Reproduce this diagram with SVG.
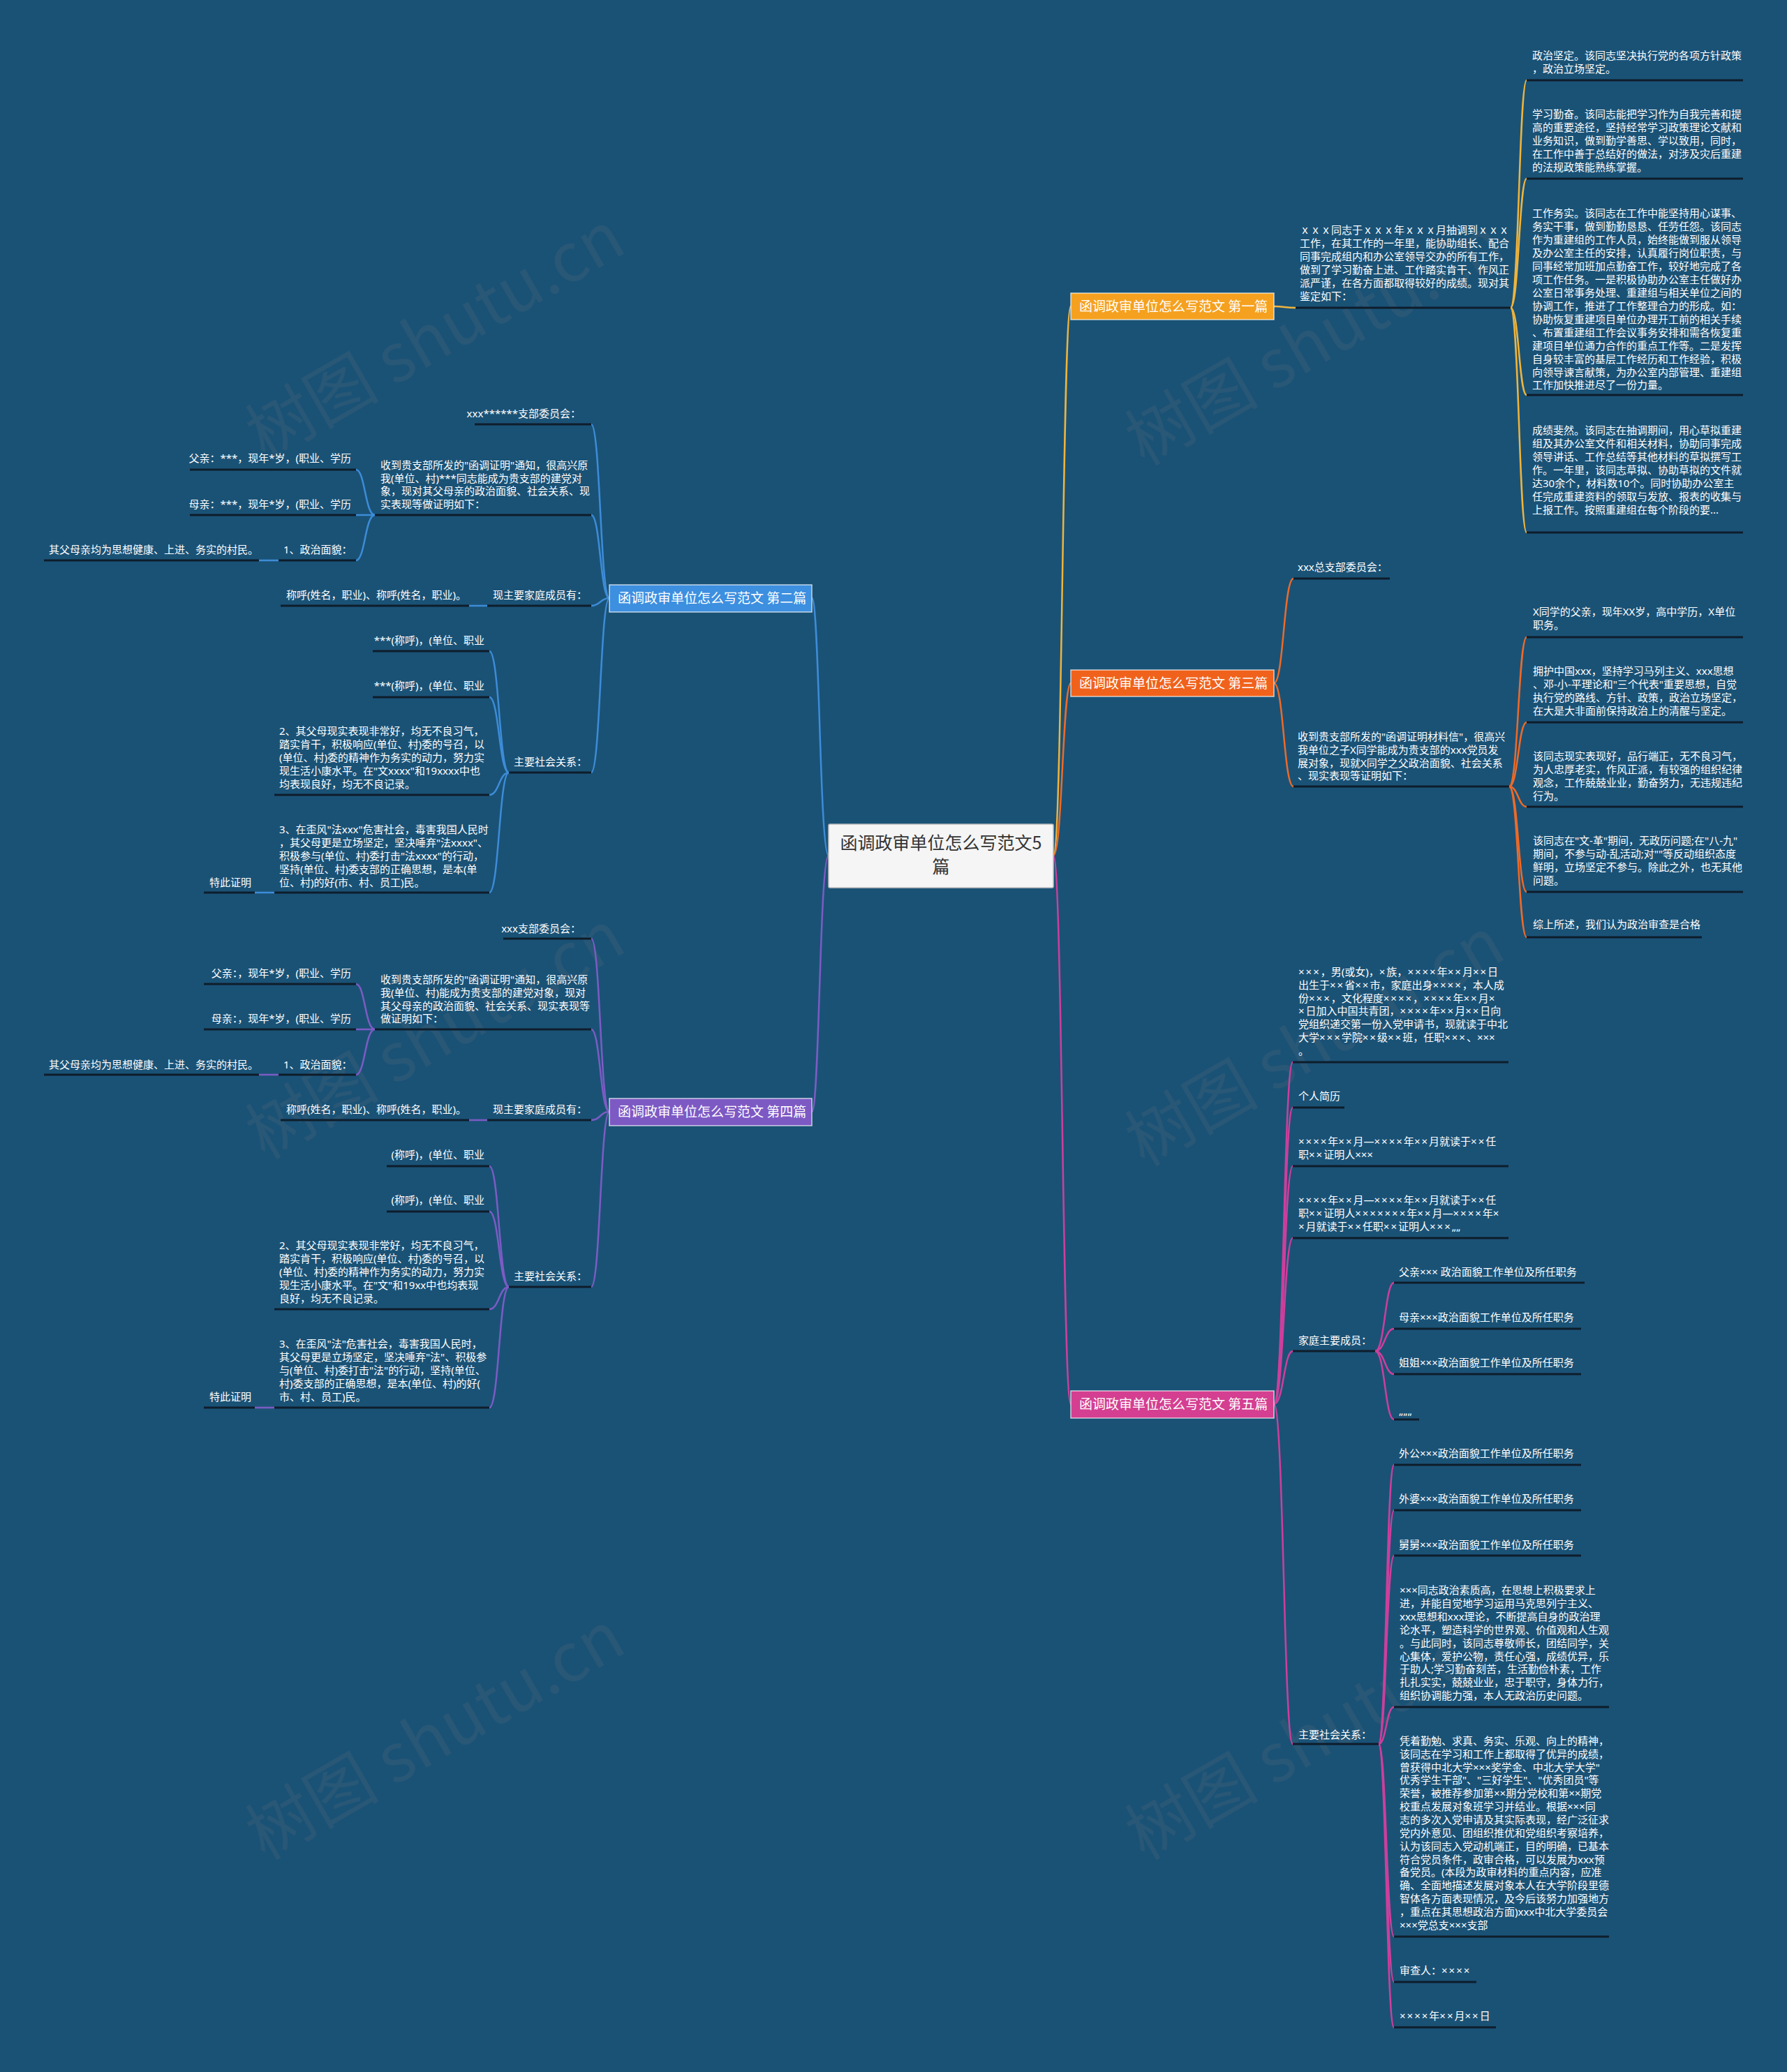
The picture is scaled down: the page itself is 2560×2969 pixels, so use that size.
<svg xmlns="http://www.w3.org/2000/svg" width="2560" height="2969" viewBox="0 0 2560 2969">
<style>
.t{font-family:"Noto Sans","Noto Sans CJK SC",sans-serif;font-size:15px;fill:#ffffff}
.x{letter-spacing:2px}
.mt{font-family:"Noto Sans CJK SC","Noto Sans",sans-serif;font-size:19px;fill:#ffffff}
.ct{font-family:"Noto Sans CJK SC","Noto Sans",sans-serif;font-size:25px;fill:#333333}
.wm{font-family:"Noto Sans CJK SC","Noto Sans",sans-serif;font-size:96px;fill:#4a6478;opacity:0.32}
.ul{stroke:#0e1d2b;stroke-width:3}
.k{fill:none;stroke-width:2.5;stroke-linecap:round}
.y{stroke:#efb43c}.o{stroke:#ee6a28}.m{stroke:#cd3f9c}.b{stroke:#3d8cd8}.p{stroke:#7c5cc4}
.mn{stroke:#ffffff;stroke-opacity:0.7;stroke-width:1.5}
</style>
<rect width="2560" height="2969" fill="#1a5276"/>
<g id="watermarks">
<text class="wm" transform="translate(640,510) rotate(-30)" text-anchor="middle">树图 shutu.cn</text>
<text class="wm" transform="translate(1900,518) rotate(-30)" text-anchor="middle">树图 shutu.cn</text>
<text class="wm" transform="translate(640,1512) rotate(-30)" text-anchor="middle">树图 shutu.cn</text>
<text class="wm" transform="translate(1900,1522) rotate(-30)" text-anchor="middle">树图 shutu.cn</text>
<text class="wm" transform="translate(640,2516) rotate(-30)" text-anchor="middle">树图 shutu.cn</text>
<text class="wm" transform="translate(1900,2516) rotate(-30)" text-anchor="middle">树图 shutu.cn</text>
</g>
<g id="connectors">
<path class="k y" stroke-width="3" d="M1509 1226 C1522 1226 1522 439 1534 439"/>
<path class="k o" stroke-width="3" d="M1509 1226 C1522 1226 1522 979 1534 979"/>
<path class="k m" stroke-width="3" d="M1509 1226 C1522 1226 1522 2012 1534 2012"/>
<path class="k b" stroke-width="3" d="M1187 1226 C1174 1226 1174 857 1163 857"/>
<path class="k p" stroke-width="3" d="M1187 1226 C1174 1226 1174 1593 1163 1593"/>
<path class="k y" d="M1825 439 C1840 439 1840 441 1856 441"/>
<path class="k y" d="M2164 441 C2176 441 2176 115 2187 115"/>
<path class="k y" d="M2164 441 C2176 441 2176 256 2187 256"/>
<path class="k y" d="M2164 441 C2176 441 2176 566 2187 566"/>
<path class="k y" d="M2164 441 C2176 441 2176 763 2187 763"/>
<path class="k o" d="M1825 979 C1839 979 1839 829 1853 829"/>
<path class="k o" d="M1825 979 C1839 979 1839 1127 1853 1127"/>
<path class="k o" d="M2162 1127 C2175 1127 2175 913 2187 913"/>
<path class="k o" d="M2162 1127 C2175 1127 2175 1035 2187 1035"/>
<path class="k o" d="M2162 1127 C2175 1127 2175 1156 2187 1156"/>
<path class="k o" d="M2162 1127 C2175 1127 2175 1278 2187 1278"/>
<path class="k o" d="M2162 1127 C2175 1127 2175 1343 2187 1343"/>
<path class="k m" d="M1825 2012 C1839 2012 1839 1522 1852 1522"/>
<path class="k m" d="M1825 2012 C1839 2012 1839 1587 1852 1587"/>
<path class="k m" d="M1825 2012 C1839 2012 1839 1671 1852 1671"/>
<path class="k m" d="M1825 2012 C1839 2012 1839 1774 1852 1774"/>
<path class="k m" d="M1825 2012 C1839 2012 1839 1936 1852 1936"/>
<path class="k m" d="M1825 2012 C1839 2012 1839 2499 1852 2499"/>
<path class="k m" d="M1970 1936 C1984 1936 1984 1838 1997 1838"/>
<path class="k m" d="M1970 1936 C1984 1936 1984 1904 1997 1904"/>
<path class="k m" d="M1970 1936 C1984 1936 1984 1969 1997 1969"/>
<path class="k m" d="M1970 1936 C1984 1936 1984 2034 1997 2034"/>
<path class="k m" d="M1975 2499 C1986 2499 1986 2099 1997 2099"/>
<path class="k m" d="M1975 2499 C1986 2499 1986 2164 1997 2164"/>
<path class="k m" d="M1975 2499 C1986 2499 1986 2229 1997 2229"/>
<path class="k m" d="M1975 2499 C1986 2499 1986 2446 1997 2446"/>
<path class="k m" d="M1975 2499 C1986 2499 1986 2775 1997 2775"/>
<path class="k m" d="M1975 2499 C1986 2499 1986 2840 1997 2840"/>
<path class="k m" d="M1975 2499 C1986 2499 1986 2905 1997 2905"/>
<path class="k b" d="M873 857 C860 857 860 608 847 608"/>
<path class="k b" d="M873 857 C860 857 860 738 847 738"/>
<path class="k b" d="M873 857 C860 857 860 868 847 868"/>
<path class="k b" d="M873 857 C860 857 860 1107 847 1107"/>
<path class="k b" d="M537 738 C523 738 523 673 510 673"/>
<path class="k b" d="M537 738 C523 738 523 738 510 738"/>
<path class="k b" d="M537 738 C523 738 523 803 510 803"/>
<path class="k b" d="M399 803 L371 803"/>
<path class="k b" d="M698 868 L672 868"/>
<path class="k b" d="M729 1107 C715 1107 715 933 701 933"/>
<path class="k b" d="M729 1107 C715 1107 715 999 701 999"/>
<path class="k b" d="M729 1107 C715 1107 715 1139 701 1139"/>
<path class="k b" d="M729 1107 C715 1107 715 1279 701 1279"/>
<path class="k b" d="M393 1279 L365 1279"/>
<path class="k p" d="M873 1593 C860 1593 860 1345 847 1345"/>
<path class="k p" d="M873 1593 C860 1593 860 1475 847 1475"/>
<path class="k p" d="M873 1593 C860 1593 860 1605 847 1605"/>
<path class="k p" d="M873 1593 C860 1593 860 1844 847 1844"/>
<path class="k p" d="M537 1475 C523 1475 523 1410 510 1410"/>
<path class="k p" d="M537 1475 C523 1475 523 1475 510 1475"/>
<path class="k p" d="M537 1475 C523 1475 523 1540 510 1540"/>
<path class="k p" d="M399 1540 L371 1540"/>
<path class="k p" d="M698 1605 L672 1605"/>
<path class="k p" d="M729 1844 C715 1844 715 1671 701 1671"/>
<path class="k p" d="M729 1844 C715 1844 715 1736 701 1736"/>
<path class="k p" d="M729 1844 C715 1844 715 1876 701 1876"/>
<path class="k p" d="M729 1844 C715 1844 715 2017 701 2017"/>
<path class="k p" d="M393 2017 L365 2017"/>
</g>

<g id="center">
<rect x="1187" y="1181" width="322" height="91" rx="2" fill="#f5f5f5" stroke="#bfbfbf" stroke-width="1.5"/>
<text class="ct" x="1348" y="1217" text-anchor="middle">函调政审单位怎么写范文5</text>
<text class="ct" x="1348" y="1251" text-anchor="middle">篇</text>
</g>

<g id="n1">
<rect class="mn" x="1534" y="420" width="291" height="38" fill="#f5a11f"/>
<text class="mt" x="1546" y="446">函调政审单位怎么写范文 第一篇</text>
</g>
<g id="n3">
<rect class="mn" x="1534" y="960" width="291" height="38" fill="#f0621c"/>
<text class="mt" x="1546" y="986">函调政审单位怎么写范文 第三篇</text>
</g>
<g id="n5">
<rect class="mn" x="1534" y="1993" width="291" height="39" fill="#d43f91"/>
<text class="mt" x="1546" y="2019">函调政审单位怎么写范文 第五篇</text>
</g>
<g id="n2">
<rect class="mn" x="873" y="838" width="290" height="39" fill="#3d8fe0"/>
<text class="mt" x="885" y="864">函调政审单位怎么写范文 第二篇</text>
</g>
<g id="n4">
<rect class="mn" x="873" y="1574" width="290" height="39" fill="#7d59c4"/>
<text class="mt" x="885" y="1600">函调政审单位怎么写范文 第四篇</text>
</g>

<g id="n1-intro">
<text class="t" x="1862" y="335">ｘｘｘ同志于ｘｘｘ年ｘｘｘ月抽调到ｘｘｘ</text>
<text class="t" x="1862" y="354">工作，在其工作的一年里，能协助组长、配合</text>
<text class="t" x="1862" y="373">同事完成组内和办公室领导交办的所有工作，</text>
<text class="t" x="1862" y="392">做到了学习勤奋上进、工作踏实肯干、作风正</text>
<text class="t" x="1862" y="411">派严谨，在各方面都取得较好的成绩。现对其</text>
<text class="t" x="1862" y="430">鉴定如下：</text>
<line class="ul" x1="1856" y1="441" x2="2164" y2="441"/>
</g>
<g id="n1-a">
<text class="t" x="2195" y="85">政治坚定。该同志坚决执行党的各项方针政策</text>
<text class="t" x="2195" y="104">，政治立场坚定。</text>
<line class="ul" x1="2187" y1="115" x2="2497" y2="115"/>
</g>
<g id="n1-b">
<text class="t" x="2195" y="169">学习勤奋。该同志能把学习作为自我完善和提</text>
<text class="t" x="2195" y="188">高的重要途径，坚持经常学习政策理论文献和</text>
<text class="t" x="2195" y="207">业务知识，做到勤学善思、学以致用，同时，</text>
<text class="t" x="2195" y="226">在工作中善于总结好的做法，对涉及灾后重建</text>
<text class="t" x="2195" y="245">的法规政策能熟练掌握。</text>
<line class="ul" x1="2187" y1="256" x2="2497" y2="256"/>
</g>
<g id="n1-c">
<text class="t" x="2195" y="311">工作务实。该同志在工作中能坚持用心谋事、</text>
<text class="t" x="2195" y="330">务实干事，做到勤勤恳恳、任劳任怨。该同志</text>
<text class="t" x="2195" y="349">作为重建组的工作人员，始终能做到服从领导</text>
<text class="t" x="2195" y="368">及办公室主任的安排，认真履行岗位职责，与</text>
<text class="t" x="2195" y="387">同事经常加班加点勤奋工作，较好地完成了各</text>
<text class="t" x="2195" y="406">项工作任务。一是积极协助办公室主任做好办</text>
<text class="t" x="2195" y="425">公室日常事务处理、重建组与相关单位之间的</text>
<text class="t" x="2195" y="444">协调工作，推进了工作整理合力的形成。如：</text>
<text class="t" x="2195" y="463">协助恢复重建项目单位办理开工前的相关手续</text>
<text class="t" x="2195" y="482">、布置重建组工作会议事务安排和需各恢复重</text>
<text class="t" x="2195" y="501">建项目单位通力合作的重点工作等。二是发挥</text>
<text class="t" x="2195" y="520">自身较丰富的基层工作经历和工作经验，积极</text>
<text class="t" x="2195" y="539">向领导谏言献策，为办公室内部管理、重建组</text>
<text class="t" x="2195" y="557">工作加快推进尽了一份力量。</text>
<line class="ul" x1="2187" y1="566" x2="2497" y2="566"/>
</g>
<g id="n1-d">
<text class="t" x="2195" y="622">成绩斐然。该同志在抽调期间，用心草拟重建</text>
<text class="t" x="2195" y="641">组及其办公室文件和相关材料，协助同事完成</text>
<text class="t" x="2195" y="660">领导讲话、工作总结等其他材料的草拟撰写工</text>
<text class="t" x="2195" y="679">作。一年里，该同志草拟、协助草拟的文件就</text>
<text class="t" x="2195" y="698">达30余个，材料数10个。同时协助办公室主</text>
<text class="t" x="2195" y="717">任完成重建资料的领取与发放、报表的收集与</text>
<text class="t" x="2195" y="736">上报工作。按照重建组在每个阶段的要...</text>
<line class="ul" x1="2187" y1="763" x2="2497" y2="763"/>
</g>

<g id="n3-a">
<text class="t" x="1859" y="818">xxx总支部委员会：</text>
<line class="ul" x1="1853" y1="829" x2="1991" y2="829"/>
</g>
<g id="n3-b">
<text class="t" x="1859" y="1061">收到贵支部所发的"函调证明材料信"，很高兴</text>
<text class="t" x="1859" y="1080">我单位之子X同学能成为贵支部的xxx党员发</text>
<text class="t" x="1859" y="1099">展对象，现就X同学之父政治面貌、社会关系</text>
<text class="t" x="1859" y="1117">、现实表现等证明如下：</text>
<line class="ul" x1="1853" y1="1127" x2="2162" y2="1127"/>
</g>
<g id="n3-b1">
<text class="t" x="2196" y="882">X同学的父亲，现年XX岁，高中学历，X单位</text>
<text class="t" x="2196" y="901">职务。</text>
<line class="ul" x1="2187" y1="913" x2="2497" y2="913"/>
</g>
<g id="n3-b2">
<text class="t" x="2196" y="967">拥护中国xxx，坚持学习马列主义、xxx思想</text>
<text class="t" x="2196" y="986">、邓-小-平理论和"三个代表"重要思想，自觉</text>
<text class="t" x="2196" y="1005">执行党的路线、方针、政策，政治立场坚定，</text>
<text class="t" x="2196" y="1024">在大是大非面前保持政治上的清醒与坚定。</text>
<line class="ul" x1="2187" y1="1035" x2="2497" y2="1035"/>
</g>
<g id="n3-b3">
<text class="t" x="2196" y="1089">该同志现实表现好，品行端正，无不良习气，</text>
<text class="t" x="2196" y="1108">为人忠厚老实，作风正派，有较强的组织纪律</text>
<text class="t" x="2196" y="1127">观念，工作兢兢业业，勤奋努力，无违规违纪</text>
<text class="t" x="2196" y="1146">行为。</text>
<line class="ul" x1="2187" y1="1156" x2="2497" y2="1156"/>
</g>
<g id="n3-b4">
<text class="t" x="2196" y="1210">该同志在"文-革"期间，无政历问题;在"八-九"</text>
<text class="t" x="2196" y="1229">期间，不参与动-乱活动;对""等反动组织态度</text>
<text class="t" x="2196" y="1248">鲜明，立场坚定不参与。除此之外，也无其他</text>
<text class="t" x="2196" y="1267">问题。</text>
<line class="ul" x1="2187" y1="1278" x2="2497" y2="1278"/>
</g>
<g id="n3-b5">
<text class="t" x="2196" y="1330">综上所述，我们认为政治审查是合格</text>
<line class="ul" x1="2187" y1="1343" x2="2438" y2="1343"/>
</g>

<g id="n5-a">
<text class="t" x="1860" y="1398"><tspan class="x">×××</tspan>，男(或女)，<tspan class="x">×</tspan>族，<tspan class="x">××××</tspan>年<tspan class="x">××</tspan>月<tspan class="x">××</tspan>日</text>
<text class="t" x="1860" y="1417">出生于<tspan class="x">××</tspan>省<tspan class="x">××</tspan>市，家庭出身<tspan class="x">××××</tspan>，本人成</text>
<text class="t" x="1860" y="1436">份<tspan class="x">×××</tspan>，文化程度<tspan class="x">××××</tspan>，<tspan class="x">××××</tspan>年<tspan class="x">××</tspan>月×</text>
<text class="t" x="1860" y="1454"><tspan class="x">×</tspan>日加入中国共青团，<tspan class="x">××××</tspan>年<tspan class="x">××</tspan>月<tspan class="x">××</tspan>日向</text>
<text class="t" x="1860" y="1473">党组织递交第一份入党申请书，现就读于中北</text>
<text class="t" x="1860" y="1492">大学<tspan class="x">×××</tspan>学院<tspan class="x">××</tspan>级<tspan class="x">××</tspan>班，任职<tspan class="x">×××</tspan>、×××</text>
<text class="t" x="1860" y="1511">。</text>
<line class="ul" x1="1852" y1="1522" x2="2161" y2="1522"/>
</g>
<g id="n5-b">
<text class="t" x="1860" y="1576">个人简历</text>
<line class="ul" x1="1852" y1="1587" x2="1926" y2="1587"/>
</g>
<g id="n5-c">
<text class="t" x="1860" y="1641"><tspan class="x">××××</tspan>年<tspan class="x">××</tspan>月—<tspan class="x">××××</tspan>年<tspan class="x">××</tspan>月就读于<tspan class="x">××</tspan>任</text>
<text class="t" x="1860" y="1660">职<tspan class="x">××</tspan>证明人×××</text>
<line class="ul" x1="1852" y1="1671" x2="2161" y2="1671"/>
</g>
<g id="n5-d">
<text class="t" x="1860" y="1725"><tspan class="x">××××</tspan>年<tspan class="x">××</tspan>月—<tspan class="x">××××</tspan>年<tspan class="x">××</tspan>月就读于<tspan class="x">××</tspan>任</text>
<text class="t" x="1860" y="1744">职<tspan class="x">××</tspan>证明人<tspan class="x">×××××××</tspan>年<tspan class="x">××</tspan>月—<tspan class="x">××××</tspan>年×</text>
<text class="t" x="1860" y="1763"><tspan class="x">×</tspan>月就读于<tspan class="x">××</tspan>任职<tspan class="x">××</tspan>证明人<tspan class="x">×××</tspan>„„</text>
<line class="ul" x1="1852" y1="1774" x2="2161" y2="1774"/>
</g>
<g id="n5-e">
<text class="t" x="1860" y="1926">家庭主要成员：</text>
<line class="ul" x1="1852" y1="1936" x2="1970" y2="1936"/>
</g>
<g id="n5-e1">
<text class="t" x="2004" y="1828">父亲××× 政治面貌工作单位及所任职务</text>
<line class="ul" x1="1997" y1="1838" x2="2270" y2="1838"/>
</g>
<g id="n5-e2">
<text class="t" x="2004" y="1893">母亲×××政治面貌工作单位及所任职务</text>
<line class="ul" x1="1997" y1="1904" x2="2265" y2="1904"/>
</g>
<g id="n5-e3">
<text class="t" x="2004" y="1958">姐姐×××政治面貌工作单位及所任职务</text>
<line class="ul" x1="1997" y1="1969" x2="2265" y2="1969"/>
</g>
<g id="n5-e4">
<text class="t" x="2004" y="2027">„„„</text>
<line class="ul" x1="1997" y1="2034" x2="2033" y2="2034"/>
</g>
<g id="n5-f">
<text class="t" x="1860" y="2491">主要社会关系：</text>
<line class="ul" x1="1852" y1="2499" x2="1975" y2="2499"/>
</g>
<g id="n5-f1">
<text class="t" x="2004" y="2088">外公×××政治面貌工作单位及所任职务</text>
<line class="ul" x1="1997" y1="2099" x2="2265" y2="2099"/>
</g>
<g id="n5-f2">
<text class="t" x="2004" y="2153">外婆×××政治面貌工作单位及所任职务</text>
<line class="ul" x1="1997" y1="2164" x2="2265" y2="2164"/>
</g>
<g id="n5-f3">
<text class="t" x="2004" y="2219">舅舅×××政治面貌工作单位及所任职务</text>
<line class="ul" x1="1997" y1="2229" x2="2265" y2="2229"/>
</g>
<g id="n5-f4">
<text class="t" x="2005" y="2284">×××同志政治素质高，在思想上积极要求上</text>
<text class="t" x="2005" y="2303">进，并能自觉地学习运用马克思列宁主义、</text>
<text class="t" x="2005" y="2322">xxx思想和xxx理论，不断提高自身的政治理</text>
<text class="t" x="2005" y="2341">论水平，塑造科学的世界观、价值观和人生观</text>
<text class="t" x="2005" y="2360">。与此同时，该同志尊敬师长，团结同学，关</text>
<text class="t" x="2005" y="2379">心集体，爱护公物，责任心强，成绩优异，乐</text>
<text class="t" x="2005" y="2397">于助人;学习勤奋刻苦，生活勤俭朴素，工作</text>
<text class="t" x="2005" y="2416">扎扎实实，兢兢业业，忠于职守，身体力行，</text>
<text class="t" x="2005" y="2435">组织协调能力强，本人无政治历史问题。</text>
<line class="ul" x1="1997" y1="2446" x2="2305" y2="2446"/>
</g>
<g id="n5-f5">
<text class="t" x="2005" y="2500">凭着勤勉、求真、务实、乐观、向上的精神，</text>
<text class="t" x="2005" y="2519">该同志在学习和工作上都取得了优异的成绩，</text>
<text class="t" x="2005" y="2538">曾获得中北大学×××奖学金、中北大学大学"</text>
<text class="t" x="2005" y="2556">优秀学生干部"、"三好学生"、"优秀团员"等</text>
<text class="t" x="2005" y="2575">荣誉，被推荐参加第××期分党校和第××期党</text>
<text class="t" x="2005" y="2594">校重点发展对象班学习并结业。根据×××同</text>
<text class="t" x="2005" y="2613">志的多次入党申请及其实际表现，经广泛征求</text>
<text class="t" x="2005" y="2632">党内外意见、团组织推优和党组织考察培养，</text>
<text class="t" x="2005" y="2651">认为该同志入党动机端正，目的明确，已基本</text>
<text class="t" x="2005" y="2670">符合党员条件，政审合格，可以发展为xxx预</text>
<text class="t" x="2005" y="2688">备党员。(本段为政审材料的重点内容，应准</text>
<text class="t" x="2005" y="2707">确、全面地描述发展对象本人在大学阶段里德</text>
<text class="t" x="2005" y="2726">智体各方面表现情况，及今后该努力加强地方</text>
<text class="t" x="2005" y="2745">，重点在其思想政治方面)xxx中北大学委员会</text>
<text class="t" x="2005" y="2764">×××党总支×××支部</text>
<line class="ul" x1="1997" y1="2775" x2="2305" y2="2775"/>
</g>
<g id="n5-f6">
<text class="t" x="2005" y="2829">审查人：<tspan class="x">××××</tspan></text>
<line class="ul" x1="1997" y1="2840" x2="2115" y2="2840"/>
</g>
<g id="n5-f7">
<text class="t" x="2005" y="2894"><tspan class="x">××××</tspan>年<tspan class="x">××</tspan>月<tspan class="x">××</tspan>日</text>
<line class="ul" x1="1997" y1="2905" x2="2143" y2="2905"/>
</g>

<g id="n2-a">
<text class="t" x="832" y="598" text-anchor="end">xxx******支部委员会：</text>
<line class="ul" x1="680" y1="608" x2="847" y2="608"/>
</g>
<g id="n2-b">
<text class="t" x="545" y="672">收到贵支部所发的"函调证明"通知，很高兴原</text>
<text class="t" x="545" y="691">我(单位、村)***同志能成为贵支部的建党对</text>
<text class="t" x="545" y="709">象，现对其父母亲的政治面貌、社会关系、现</text>
<text class="t" x="545" y="728">实表现等做证明如下：</text>
<line class="ul" x1="537" y1="738" x2="847" y2="738"/>
</g>
<g id="n2-b1">
<text class="t" x="503" y="662" text-anchor="end">父亲：***，现年*岁，(职业、学历</text>
<line class="ul" x1="272" y1="673" x2="510" y2="673"/>
</g>
<g id="n2-b2">
<text class="t" x="503" y="728" text-anchor="end">母亲：***，现年*岁，(职业、学历</text>
<line class="ul" x1="272" y1="738" x2="510" y2="738"/>
</g>
<g id="n2-b3">
<text class="t" x="406" y="793">1、政治面貌：</text>
<line class="ul" x1="399" y1="803" x2="510" y2="803"/>
</g>
<g id="n2-b3a">
<text class="t" x="70" y="793">其父母亲均为思想健康、上进、务实的村民。</text>
<line class="ul" x1="63" y1="803" x2="371" y2="803"/>
</g>
<g id="n2-c">
<text class="t" x="706" y="858">现主要家庭成员有：</text>
<line class="ul" x1="698" y1="868" x2="847" y2="868"/>
</g>
<g id="n2-c1">
<text class="t" x="410" y="858">称呼(姓名，职业)、称呼(姓名，职业)。</text>
<line class="ul" x1="402" y1="868" x2="672" y2="868"/>
</g>
<g id="n2-d">
<text class="t" x="736" y="1097">主要社会关系：</text>
<line class="ul" x1="729" y1="1107" x2="847" y2="1107"/>
</g>
<g id="n2-d1">
<text class="t" x="694" y="923" text-anchor="end">***(称呼)，(单位、职业</text>
<line class="ul" x1="534" y1="933" x2="701" y2="933"/>
</g>
<g id="n2-d2">
<text class="t" x="694" y="988" text-anchor="end">***(称呼)，(单位、职业</text>
<line class="ul" x1="534" y1="999" x2="701" y2="999"/>
</g>
<g id="n2-d3">
<text class="t" x="400" y="1053">2、其父母现实表现非常好，均无不良习气，</text>
<text class="t" x="400" y="1072">踏实肯干，积极响应(单位、村)委的号召，以</text>
<text class="t" x="400" y="1091">(单位、村)委的精神作为务实的动力，努力实</text>
<text class="t" x="400" y="1110">现生活小康水平。在"文xxxx"和19xxxx中也</text>
<text class="t" x="400" y="1129">均表现良好，均无不良记录。</text>
<line class="ul" x1="393" y1="1139" x2="701" y2="1139"/>
</g>
<g id="n2-d4">
<text class="t" x="400" y="1194">3、在歪风"法xxx"危害社会，毒害我国人民时</text>
<text class="t" x="400" y="1213">，其父母更是立场坚定，坚决唾弃"法xxxx"、</text>
<text class="t" x="400" y="1232">积极参与(单位、村)委打击"法xxxx"的行动，</text>
<text class="t" x="400" y="1251">坚持(单位、村)委支部的正确思想，是本(单</text>
<text class="t" x="400" y="1270">位、村)的好(市、村、员工)民。</text>
<line class="ul" x1="393" y1="1279" x2="701" y2="1279"/>
</g>
<g id="n2-d4a">
<text class="t" x="300" y="1270">特此证明</text>
<line class="ul" x1="292" y1="1279" x2="365" y2="1279"/>
</g>

<g id="n4-a">
<text class="t" x="832" y="1336" text-anchor="end">xxx支部委员会：</text>
<line class="ul" x1="721" y1="1345" x2="847" y2="1345"/>
</g>
<g id="n4-b">
<text class="t" x="545" y="1409">收到贵支部所发的"函调证明"通知，很高兴原</text>
<text class="t" x="545" y="1428">我(单位、村)能成为贵支部的建党对象，现对</text>
<text class="t" x="545" y="1447">其父母亲的政治面貌、社会关系、现实表现等</text>
<text class="t" x="545" y="1465">做证明如下：</text>
<line class="ul" x1="537" y1="1475" x2="847" y2="1475"/>
</g>
<g id="n4-b1">
<text class="t" x="503" y="1400" text-anchor="end">父亲：，现年*岁，(职业、学历</text>
<line class="ul" x1="292" y1="1410" x2="510" y2="1410"/>
</g>
<g id="n4-b2">
<text class="t" x="503" y="1465" text-anchor="end">母亲：，现年*岁，(职业、学历</text>
<line class="ul" x1="292" y1="1475" x2="510" y2="1475"/>
</g>
<g id="n4-b3">
<text class="t" x="406" y="1531">1、政治面貌：</text>
<line class="ul" x1="399" y1="1540" x2="510" y2="1540"/>
</g>
<g id="n4-b3a">
<text class="t" x="70" y="1531">其父母亲均为思想健康、上进、务实的村民。</text>
<line class="ul" x1="63" y1="1540" x2="371" y2="1540"/>
</g>
<g id="n4-c">
<text class="t" x="706" y="1595">现主要家庭成员有：</text>
<line class="ul" x1="698" y1="1605" x2="847" y2="1605"/>
</g>
<g id="n4-c1">
<text class="t" x="410" y="1595">称呼(姓名，职业)、称呼(姓名，职业)。</text>
<line class="ul" x1="402" y1="1605" x2="672" y2="1605"/>
</g>
<g id="n4-d">
<text class="t" x="736" y="1834">主要社会关系：</text>
<line class="ul" x1="729" y1="1844" x2="847" y2="1844"/>
</g>
<g id="n4-d1">
<text class="t" x="694" y="1660" text-anchor="end">(称呼)，(单位、职业</text>
<line class="ul" x1="554" y1="1671" x2="701" y2="1671"/>
</g>
<g id="n4-d2">
<text class="t" x="694" y="1725" text-anchor="end">(称呼)，(单位、职业</text>
<line class="ul" x1="554" y1="1736" x2="701" y2="1736"/>
</g>
<g id="n4-d3">
<text class="t" x="400" y="1790">2、其父母现实表现非常好，均无不良习气，</text>
<text class="t" x="400" y="1809">踏实肯干，积极响应(单位、村)委的号召，以</text>
<text class="t" x="400" y="1828">(单位、村)委的精神作为务实的动力，努力实</text>
<text class="t" x="400" y="1847">现生活小康水平。在"文"和19xx中也均表现</text>
<text class="t" x="400" y="1866">良好，均无不良记录。</text>
<line class="ul" x1="393" y1="1876" x2="701" y2="1876"/>
</g>
<g id="n4-d4">
<text class="t" x="400" y="1931">3、在歪风"法"危害社会，毒害我国人民时，</text>
<text class="t" x="400" y="1950">其父母更是立场坚定，坚决唾弃"法"、积极参</text>
<text class="t" x="400" y="1969">与(单位、村)委打击"法"的行动，坚持(单位、</text>
<text class="t" x="400" y="1988">村)委支部的正确思想，是本(单位、村)的好(</text>
<text class="t" x="400" y="2007">市、村、员工)民。</text>
<line class="ul" x1="393" y1="2017" x2="701" y2="2017"/>
</g>
<g id="n4-d4a">
<text class="t" x="300" y="2007">特此证明</text>
<line class="ul" x1="292" y1="2017" x2="365" y2="2017"/>
</g>
</svg>
